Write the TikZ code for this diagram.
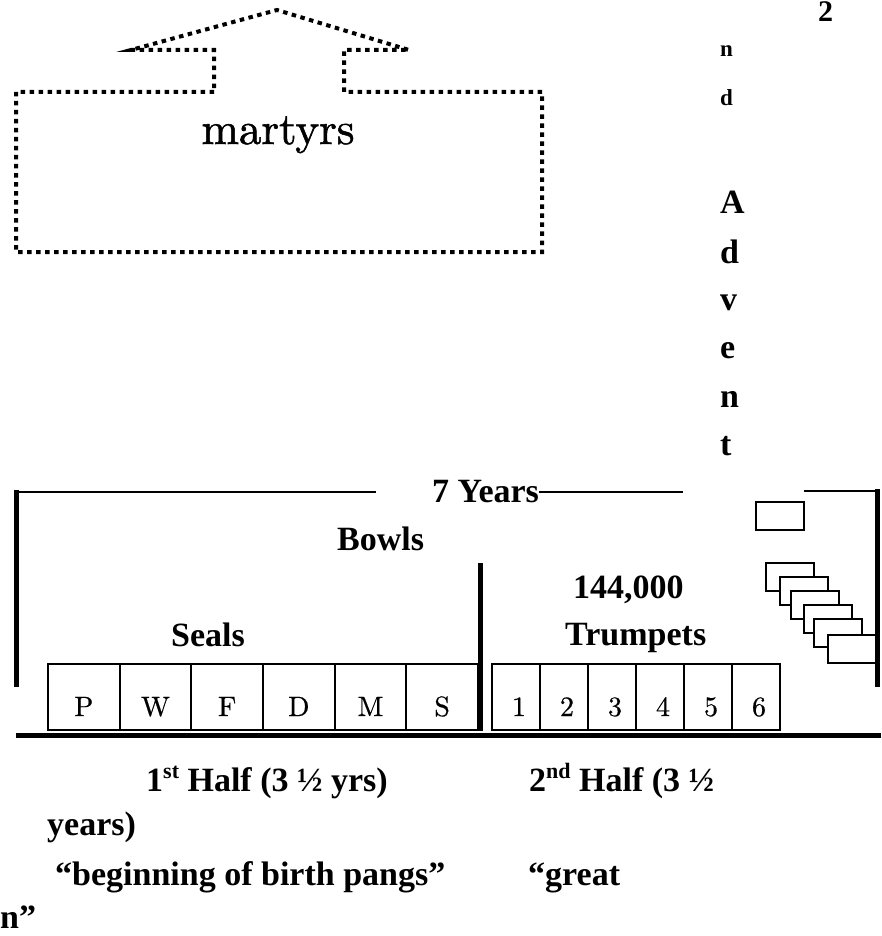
\documentclass[tikz,border=0pt]{standalone}
\usepackage{fontspec}
\newfontfamily\tnr{Liberation Serif}
\newfontfamily\lmheavy{lmroman10-regular.otf}[FakeBold=1.2]
\newfontfamily\lmcell{lmroman10-regular.otf}[FakeBold=0.6]
\newcommand\upscript[1]{\raisebox{0.36em}{\fontsize{22}{22}\selectfont #1}}
\tikzset{
  boldtext/.style={font=\tnr\bfseries\fontsize{34}{40}\selectfont, inner sep=0pt, anchor=base west},
  smallbold/.style={font=\tnr\bfseries\fontsize{23}{26}\selectfont, inner sep=0pt, anchor=base west},
  cmtext/.style={font=\lmcell\fontsize{28}{32}\selectfont, inner sep=0pt, anchor=base},
  dotline/.style={line width=4pt, dash pattern=on 4.5pt off 4.5pt, line join=miter},
  heavy/.style={line width=5pt},
  rule/.style={line width=2.5pt},
  cellbox/.style={draw, line width=2pt, inner sep=0pt},
  bookbox/.style={draw, fill=white, line width=2pt, inner sep=0pt, minimum width=48pt, minimum height=28pt},
}
\begin{document}
\begin{tikzpicture}[x=1pt, y=-1pt]
\useasboundingbox (0,0) rectangle (882,936);

% box with upward arrow
\draw[dotline] (214,92) -- (16,92) -- (16,252) -- (542,252) -- (542,92) -- (344,92)
  -- (344,50) -- (409,50) -- (277,10) -- (131,50) -- (214,50) -- cycle;
\node[font=\lmheavy\fontsize{45}{50}\selectfont, inner sep=0pt, anchor=base] (martyrs) at (278,144) {martyrs};

% "2nd Advent" written downwards
\node[boldtext, font=\tnr\bfseries\fontsize{30}{34}\selectfont] (two) at (818,22) {2};
\node[smallbold] (sn) at (720,57) {n};
\node[smallbold] (sd) at (720,106) {d};
\node[boldtext] (adA) at (720,213) {A};
\node[boldtext] (add) at (720,263) {d};
\node[boldtext] (adv) at (720,310) {v};
\node[boldtext] (ade) at (720,358) {e};
\node[boldtext] (adn) at (720,407) {n};
\node[boldtext] (adt) at (720,455) {t};

% seven-year bracket
\node[boldtext] (years) at (432,502) {7 Years};
\draw[rule] (14,492) -- (376,492);
\draw[rule] (years.east |- 0,492) -- (683,492);
\draw[rule] (804,491) -- (879,491);
\draw[heavy] (16,490) -- (16,687);
\draw[heavy] (877,489) -- (877,687);

% labels
\node[boldtext] (bowls) at (337,550) {Bowls};
\node[boldtext] (seals) at (171,646) {Seals};
\node[boldtext] (num) at (573,598) {144,000};
\node[boldtext] (trump) at (565,645) {Trumpets};

% seal cells
\foreach \t [count=\i from 0] in {P,W,F,D,M,S} {
  \node[cellbox, minimum width=71.67pt, minimum height=66pt] (seal\i) at ({83.8+71.67*\i},697) {};
  \node[cmtext] (sl\i) at ({83.8+71.67*\i},716) {\t};
}
% trumpet cells
\foreach \t [count=\i from 0] in {1,2,3,4,5,6} {
  \node[cellbox, minimum width=48pt, minimum height=66pt] (tr\i) at ({516+48*\i},697) {};
  \node[cmtext] (tl\i) at ({519+48*\i},716) {\t};
}

% divider and base line
\draw[heavy] (480,563) -- (480,731);
\draw[heavy] (16,735) -- (881,735);

% bowls as a stack of small boxes
\node[bookbox] (b0) at (780,516) {};
\node[bookbox] (b1) at (790,577) {};
\node[bookbox] (b2) at (803.5,591) {};
\node[bookbox] (b3) at (815,605) {};
\node[bookbox] (b4) at (827.5,619) {};
\node[bookbox] (b5) at (837.5,633) {};
\node[bookbox] (b6) at (852,649) {};

% captions below the line
\node[boldtext] (h1) at (146,791) {1\upscript{st} Half (3 ½ yrs)};
\node[boldtext] (h2) at (529,791) {2\upscript{nd} Half (3 ½};
\node[boldtext] (h2b) at (47,835) {years)};
\node[boldtext] (q1) at (55,885) {“beginning of birth pangs”};
\node[boldtext] (q2) at (528,885) {“great};
\node[boldtext] (q2b) at (0,928) {n”};
\end{tikzpicture}
\end{document}
